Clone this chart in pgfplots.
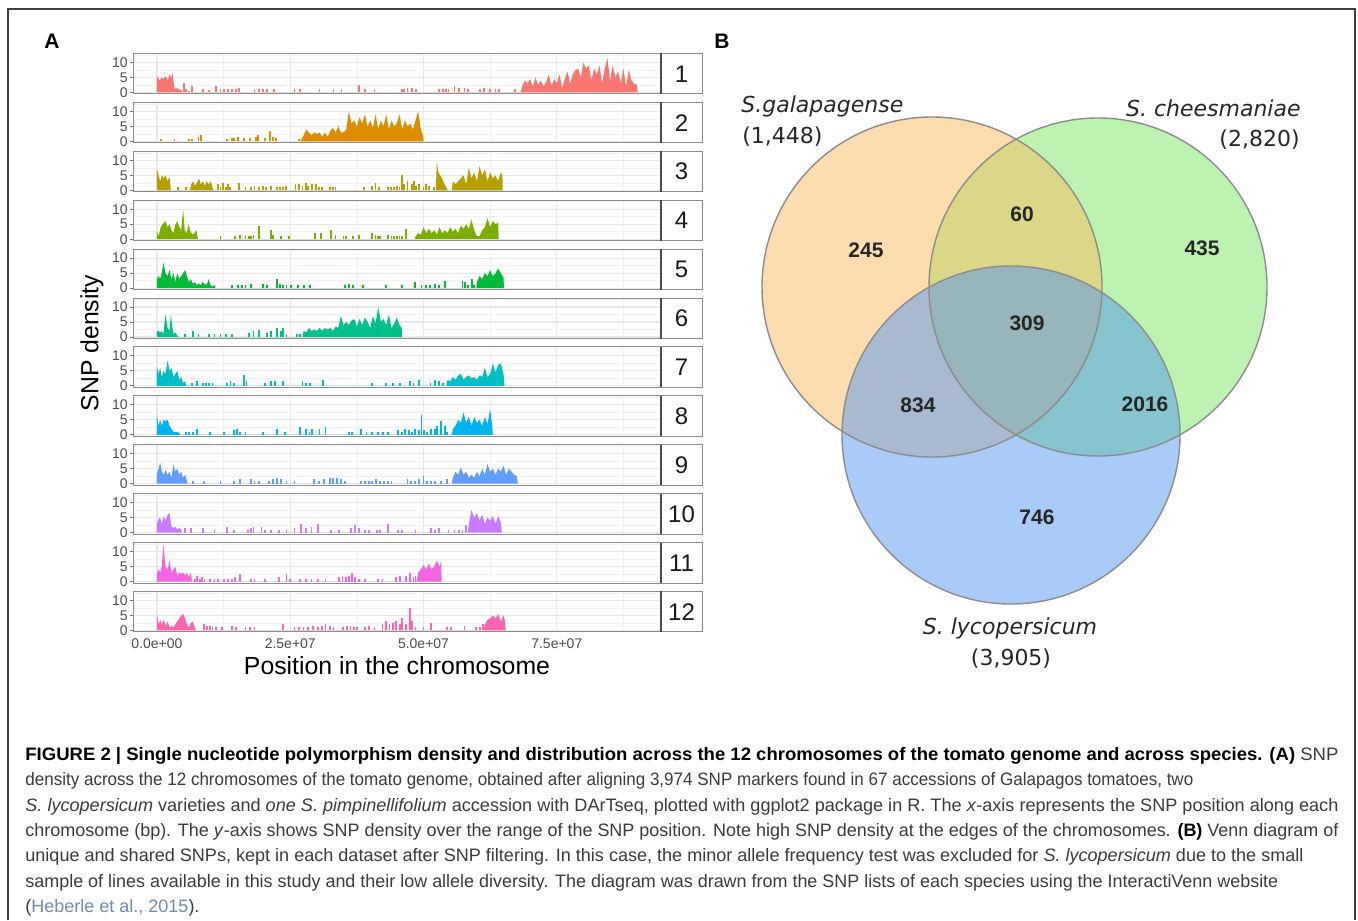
\documentclass[border=0pt]{standalone}
\usepackage{pgfplots}
\pgfplotsset{compat=1.18}
\usepackage{graphicx}
\usepackage{fontspec}
\setmainfont{Liberation Sans}
\newfontfamily\venn{DejaVu Sans}

\definecolor{c1}{HTML}{F8766D}
\definecolor{c2}{HTML}{DE8C00}
\definecolor{c3}{HTML}{B79F00}
\definecolor{c4}{HTML}{7CAE00}
\definecolor{c5}{HTML}{00BA38}
\definecolor{c6}{HTML}{00C08B}
\definecolor{c7}{HTML}{00BFC4}
\definecolor{c8}{HTML}{00B4F0}
\definecolor{c9}{HTML}{619CFF}
\definecolor{c10}{HTML}{C77CFF}
\definecolor{c11}{HTML}{F564E3}
\definecolor{c12}{HTML}{FF64B0}
\definecolor{vor}{HTML}{FBBB61}
\definecolor{vgr}{HTML}{7BE761}
\definecolor{vbl}{HTML}{5397F1}
\definecolor{captxt}{HTML}{3A3A3A}
\definecolor{cite}{HTML}{6E8CB0}

% caption line squeezed or stretched to the width it has in the original
\newlength\capw
\newcommand\capline[2]{\settowidth{\capw}{#2}\pgfmathsetmacro\capr{#1/\capw}\scalebox{\capr}[1]{#2}}

\pgfplotsset{
  chr/.style={
    scale only axis, width=264pt, height=20.25pt,
    anchor=south west,
    xmin=-4.5, xmax=94.55, ymin=-0.5, ymax=13,
    axis line style={black!45, line width=0.5pt},
    xtick={0,25,50,75}, minor xtick={12.5,37.5,62.5,87.5},
    ytick={0,5,10}, minor ytick={2.5,7.5,12.5},
    xticklabels={},
    xmajorgrids, ymajorgrids, xminorgrids, yminorgrids,
    major grid style={black!9, line width=0.55pt},
    minor grid style={black!5, line width=0.3pt},
    tick align=outside, ytick pos=left, xtick pos=bottom,
    major tick length=1.5pt, minor tick length=0pt,
    xtick style={draw=none}, ytick style={black!55, line width=0.5pt},
    yticklabel style={font=\fontsize{7}{7}\selectfont, text=black!70, inner sep=1pt},
    /pgf/number format/assume math mode=true,
  },
  area/.style={fill=#1, draw=none},
  spk/.style={ycomb, draw=#1, line width=0.9pt},
}

\begin{document}
\begin{tikzpicture}[x=0.5pt,y=-0.5pt]
\path[use as bounding box] (0,0) rectangle (1358,920);
\draw[black!75, line width=0.7pt] (8,920) -- (8,9) -- (1355,9) -- (1355,920);

\node[font=\fontsize{10.5}{10.5}\selectfont\bfseries] at (52,41) {A};
\node[font=\fontsize{10.5}{10.5}\selectfont\bfseries] at (722,41) {B};

% chromosome 1
\begin{axis}[chr, at={(66.5pt,-47pt)}]
\addplot[area=c1] coordinates {(0,0)(0,5.5)(0.5,4)(0.9,5)(1.25,4.5)(1.6,5.5)(2,4)(2.35,6)(2.7,5)(2.95,6.5)(3.2,2)(3.45,1)(3.8,1.5)(4.2,1)(4.55,0.8)(4.8,0)
(68.2,0)(68.5,2)(69,4)(69.5,3)(70,4.5)(70.5,2)(71,5)(71.5,2.5)(72,4)(72.5,2)(73,3.5)(73.5,6)(74,2)(74.5,4.5)(75,3)(75.5,6)(76,1.5)(76.5,4.5)(77,7)(77.5,3)(78,6)(78.5,7.5)(79,8)(79.5,5)(80,10)(80.5,8)(81,9)(81.5,4)(82,8)(82.5,6)(83,9)(83.5,3)(84,8)(84.5,11.5)(85,4)(85.5,9)(86,5)(86.5,7)(87,3)(87.5,8)(88,2)(88.5,7.5)(89,4)(89.5,3)(90,2.5)(90.2,0)} \closedcycle;
\addplot[spk=c1] coordinates {(5.13,3.2)(5.45,1)(6.05,0.5)(6.5,2.3)(8.6,1)(9.8,0.8)(11,2)(11.9,1)(12.6,1)(13.3,1)(14.1,1)(14.8,1)(15.4,1.5)(18.3,1)(19.2,1)(19.9,1)(20.7,1)(22,1)(25.8,1)(26.9,1)(30.5,1)(33.1,1)(34.6,1)(37.9,2.5)(39,1)(40.8,1)(45.9,1)(46.3,1)(47,1.5)(47.8,1.5)(48.6,1)(52.9,1)(53.6,1)(54.2,1)(54.7,1)(55.8,2)(56.6,1.5)(57.7,1.5)(58.4,1)(60.6,1)(61.3,1.5)(62.4,1)(63.5,1)(64.2,1)(67.2,1)};
\end{axis}

% chromosome 2
\begin{axis}[chr, at={(66.5pt,-71.45pt)}]
\addplot[area=c2] coordinates {(26.9,0)(27.5,2)(28,4)(28.5,3)(29,2)(29.5,3)(30,2.5)(30.5,3)(31,1.5)(31.5,3)(32,1.5)(32.5,3.5)(33,4.5)(33.5,3)(34,5)(34.5,3)(35,3)(35.5,4)(36,10)(36.5,6)(37,7)(37.5,5)(38,8)(38.5,6)(39,9)(39.5,5)(40,7)(40.5,4.5)(41,9)(41.5,4)(42,7)(42.5,5)(43,9)(43.5,4)(44,7)(44.5,5)(45,6)(45.5,9)(46,4)(46.5,7)(47,5)(47.5,6)(48,4)(48.5,7)(49,10)(49.5,4)(49.9,2)(50,0)} \closedcycle;
\addplot[spk=c2] coordinates {(0.7,0.8)(3.3,0.7)(6,0.8)(6.5,0.8)(7.8,1.5)(8.2,2)(13.2,0.8)(14.1,1)(14.5,1)(15.2,1.5)(16.3,1)(17.4,1)(18.5,1.5)(19,2)(20.3,1)(21.2,3.5)(21.8,1.5)(22.3,1)(26.7,0.8)};
\end{axis}

% chromosome 3
\begin{axis}[chr, at={(66.5pt,-95.9pt)}]
\addplot[area=c3] coordinates {(0,0)(0,7)(0.3,5)(0.6,3)(0.9,5)(1.25,4)(1.6,5)(2,3)(2.35,4.5)(2.6,0)
(6.2,0)(6.4,2)(6.8,3)(7.1,1.5)(7.5,2.5)(7.9,4)(8.2,2)(8.6,3)(9,1.5)(9.3,3)(9.7,2)(10.1,3)(10.4,1)(10.6,0)
(52.3,0)(52.5,9.5)(52.8,6)(53.1,5)(53.5,4)(53.9,2)(54.3,1)(54.5,0)
(55.3,0)(55.5,3)(56,2)(56.5,3)(57,4)(57.5,5)(58,2)(58.5,7.5)(59,4)(59.5,6)(60,3)(60.5,8)(61,5)(61.5,7)(62,3)(62.5,6)(63,4)(63.5,5)(64,3)(64.5,6)(64.8,5)(64.85,0)} \closedcycle;
\addplot[spk=c3] coordinates {(4,1)(5.4,1)(11.4,2)(11.9,1)(12.4,2.5)(12.9,1)(13.3,2)(13.7,1)(15.4,2.5)(16.6,1)(17.7,1)(18.3,1.5)(19.2,1)(19.9,1.5)(20.5,1)(21.4,1.5)(22.5,1)(23.1,1)(23.6,1)(24.2,1.5)(26,2)(26.6,2)(27.3,1.5)(27.9,2.5)(28.4,1.5)(29.1,2)(29.8,2)(30.4,1)(30.9,1)(32.4,1)(33,1)(33.5,1)(38.8,1)(40.4,1.5)(41,2.5)(41.7,1)(43.4,1)(43.9,1)(44.5,1)(45,1.5)(45.5,1)(45.9,5)(46.3,2)(47,3)(47.8,2)(48.2,3)(48.6,1.5)(49.2,2)(50,1)(50.5,2)(51,1.5)(52,1)};
\end{axis}

% chromosome 4
\begin{axis}[chr, at={(66.5pt,-120.35pt)}]
\addplot[area=c4] coordinates {(0,0)(0,2.5)(0.3,1)(0.7,4)(1.1,5)(1.6,6)(2,4)(2.35,5)(2.7,3)(3.1,2)(3.45,5)(3.8,6)(4.2,4)(4.55,3)(4.9,10)(5.2,3)(5.6,2)(5.9,5)(6.3,2.5)(6.7,1.5)(7,2)(7.4,3)(7.7,0)
(48.3,0)(48.5,1)(49,2)(49.5,1.5)(50,4)(50.5,2)(51,3.5)(51.5,2)(52,3)(52.5,1.5)(53,4)(53.5,2)(54,3)(54.5,2)(55,4)(55.5,2.5)(56,3.5)(56.5,2)(57,4.5)(57.5,3.5)(58,5)(58.5,3.5)(59,6.5)(59.5,3)(60,1)(60.5,1)(61,3)(61.5,4)(62,7)(62.5,4)(63,6)(63.5,5)(64,5.5)(64.1,0)} \closedcycle;
\addplot[spk=c4] coordinates {(11.9,1)(14.7,1)(15.5,1.5)(16.6,1)(17.2,1)(17.7,1)(18.1,1.5)(19.2,4.5)(21.4,3)(21.8,1.5)(23.2,1)(24.7,1)(29.7,2)(30.7,2)(32.7,3)(33.5,1.5)(35,1)(35.5,1)(36.8,1)(37.9,1.5)(40.4,2)(41,1.5)(41.5,1)(41.9,1)(43.4,1.5)(44,1)(44.5,1)(45,1)(45.5,1)(46,1)(46.7,3.5)};
\end{axis}

% chromosome 5
\begin{axis}[chr, at={(66.5pt,-144.8pt)}]
\addplot[area=c5] coordinates {(0,0)(0,3)(0.3,4)(0.6,3)(0.9,5)(1.2,8.5)(1.6,5)(2,4)(2.35,6)(2.7,3)(3.1,5)(3.45,2)(3.8,5)(4.2,3)(4.55,4)(4.9,5)(5.3,6)(5.6,4)(6,2)(6.35,3)(6.7,1.5)(7.1,2)(7.45,1)(7.8,1.5)(8.2,1)(8.55,2)(8.9,1.5)(9.3,1)(9.7,3)(10,1)(10.4,0.5)(10.8,1)(11,0)
(59.9,0)(60,2)(60.5,4)(61,3)(61.5,5)(62,4)(62.5,6)(63,4)(63.5,5)(64,6.5)(64.5,5)(65,3.5)(65.1,0)} \closedcycle;
\addplot[spk=c5] coordinates {(14.1,1)(15.2,1)(15.9,1)(16.6,1)(17.7,1.5)(19.9,1.5)(20.7,1)(22.5,3)(23,1.5)(23.6,1)(24.3,1)(25.1,1)(26.5,1)(27.6,1)(28.7,1)(35.3,1)(36,1.5)(36.8,1)(38.6,1)(43,1)(45.9,1)(48.4,2)(49.6,1)(50.4,1)(51.2,1)(52.2,1.5)(52.9,1)(54,2.5)(57.3,2.5)(57.8,2)(58.4,1)(59.1,3)(59.5,1)};
\end{axis}

% chromosome 6
\begin{axis}[chr, at={(66.5pt,-169.25pt)}]
\addplot[area=c6] coordinates {(0,0)(0,2)(0.3,2)(0.6,1.5)(0.9,2)(1.2,1)(1.6,7.5)(2,3)(2.35,2)(2.6,7.5)(2.9,3)(3.1,1)(3.45,1.5)(3.8,0.5)(4,0)
(27.3,0)(27.5,2)(28,1.5)(28.5,3)(29,2)(29.5,2.5)(30,2)(30.5,3)(31,2)(31.5,3)(32,2.5)(32.5,3)(33,2)(33.5,3.5)(34,3)(34.5,7)(35,4)(35.5,5)(36,4)(36.5,5.5)(37,6)(37.5,3.5)(38,6)(38.5,4)(39,6.5)(39.5,5)(40,3)(40.5,7)(41,4.5)(41.5,10)(42,5)(42.5,6)(43,4)(43.5,7.5)(44,3)(44.5,4.5)(45,6.5)(45.5,4)(45.9,3)(46,0)} \closedcycle;
\addplot[spk=c6] coordinates {(5.3,1)(6.7,2)(7.8,1)(9.7,1)(10.8,1)(11.9,1)(13,1)(14.1,1)(17.2,1.5)(18.1,2)(19.2,2.5)(20.7,1.5)(21.4,2)(22.5,3)(23.2,2)(23.6,3)(24.3,1)(26.2,1)(26.9,1)};
\end{axis}

% chromosome 7
\begin{axis}[chr, at={(66.5pt,-193.7pt)}]
\addplot[area=c7] coordinates {(0,0)(0,6.5)(0.3,4)(0.6,6)(0.9,3)(1.25,5)(1.6,4)(2,8.5)(2.35,5)(2.7,6)(3.1,3)(3.45,4)(3.8,5)(4.2,2)(4.55,3)(4.9,1)(5.3,1.5)(5.5,0)
(54.3,0)(54.5,2)(55,1.5)(55.5,3)(56,2)(56.5,3.5)(57,4)(57.5,2)(58,3)(58.5,3.5)(59,2.5)(59.5,3)(60,2)(60.5,3.5)(61,3)(61.5,6)(62,3)(62.5,4)(63,7.5)(63.5,4.5)(64,7)(64.5,7.5)(65,4)(65.2,0)} \closedcycle;
\addplot[spk=c7] coordinates {(6.6,1)(7.5,1.5)(8.6,1)(9.2,1)(9.8,1)(10.4,1)(13.2,1)(13.8,1.5)(14.4,1)(16.3,3.5)(16.8,1.5)(20.3,1)(21.4,1.5)(22.1,1.5)(23.6,1.5)(27.3,1.5)(28,1)(28.7,1)(31.1,2)(40.4,1)(43,1)(44.2,1)(45.6,1)(47.4,1.5)(48.1,1)(49.1,2)(51.3,1)(52.2,2)(52.9,1.5)(53.6,1)};
\end{axis}

% chromosome 8
\begin{axis}[chr, at={(66.5pt,-218.15pt)}]
\addplot[area=c8] coordinates {(0,0)(0,6.5)(0.3,3)(0.6,5)(0.9,3)(1.25,5)(1.6,4.5)(2,5)(2.35,3)(2.7,2)(3.1,1)(3.45,1)(3.8,1)(4.2,0.5)(4.4,0)
(55.3,0)(55.5,2)(56,3)(56.5,5)(57,4)(57.5,7.5)(58,4)(58.5,6)(59,3)(59.5,6)(60,4)(60.5,5)(61,3)(61.5,6)(62,3.5)(62.5,8.5)(62.9,3)(63,0)} \closedcycle;
\addplot[spk=c8] coordinates {(5.4,1)(6,1)(6.7,1)(7.5,2)(10,1)(12.6,1)(14.4,1.5)(15,2)(15.5,1)(16.6,1)(19.9,1)(22.5,2)(24,1)(26.9,2.5)(28,2)(28.6,1)(29.1,2)(30.5,2)(31.6,2.5)(36,1)(36.6,1)(38.2,2)(39.3,1)(40.4,1)(41.5,1)(42.4,1)(43.4,1)(45.2,1.5)(45.9,1)(46.5,2)(47.2,1.5)(47.8,1)(48.4,2)(49.2,1.5)(49.6,6.5)(50.1,1.5)(50.7,1)(51.4,2)(52.2,2)(52.5,3)(53.3,4.5)(54,3)(54.4,1)};
\end{axis}

% chromosome 9
\begin{axis}[chr, at={(66.5pt,-242.6pt)}]
\addplot[area=c9] coordinates {(0,0)(0,3)(0.3,5)(0.6,7)(0.9,4)(1.25,3)(1.6,4.5)(2,3)(2.35,4)(2.7,2)(3.1,6.5)(3.45,4)(3.8,5)(4.2,3)(4.55,4)(4.9,2)(5.3,3)(5.6,1)(5.8,0)
(55.3,0)(55.5,2)(56,4)(56.5,3)(57,5.5)(57.5,3)(58,4)(58.5,2)(59,3)(59.5,2)(60,4)(60.5,2.5)(61,5)(61.5,3)(62,6.5)(62.5,4)(63,5)(63.5,3)(64,5)(64.5,4)(65,6)(65.5,3)(66,5)(66.5,4)(67,3)(67.5,2.5)(67.7,0)} \closedcycle;
\addplot[spk=c9] coordinates {(6.7,1)(8.8,1)(11.9,1)(14.4,1)(15.5,1.5)(17.6,1.5)(18.3,1)(19.2,1)(21,1)(21.8,1.5)(22.5,2)(23.2,1.5)(24.3,1)(25.8,1)(29.5,1.5)(30.4,1)(31.3,1.5)(32.4,2)(33,2)(33.8,2)(34.5,1.5)(35.3,1)(38.2,1)(39,1)(39.7,1)(40.4,1)(41.1,1.5)(41.9,1)(42.6,1)(43.3,1)(44,1)(47,1.5)(47.7,1)(48.4,1)(49.2,1.5)(50,2.5)(50.7,1)(51.4,1)(52.2,1)(53.3,1)(54.4,1.5)};
\end{axis}

% chromosome 10
\begin{axis}[chr, at={(66.5pt,-267.05pt)}]
\addplot[area=c10] coordinates {(0,0)(0,3)(0.3,4.5)(0.6,5)(0.9,3)(1.25,5.5)(1.6,4)(2,6)(2.35,6.5)(2.7,2)(3.1,1.5)(3.45,2)(3.8,1)(4.2,1.5)(4.55,1)(4.7,0)
(58.3,0)(58.5,3)(59,7.5)(59.5,5)(60,6.5)(60.5,4)(61,6)(61.5,3)(62,5)(62.5,4)(63,5.5)(63.5,3)(64,5.5)(64.5,3.5)(64.7,0)} \closedcycle;
\addplot[spk=c10] coordinates {(5.3,1.5)(6.4,1.5)(8.6,1.5)(10.8,1)(13.2,2)(14.4,1)(17,1)(17.6,1.5)(18.1,2)(19.6,2)(20.3,1)(21.4,1)(22.9,1)(24.3,1)(25.8,1.5)(27,3)(28,1.5)(29,2)(30.2,3)(32.7,1)(34.2,1)(36.4,1.5)(37.1,2.5)(37.9,1.5)(39,1)(39.7,1)(41.2,1)(41.9,1)(43.4,3)(45.2,1)(45.9,1)(48.5,1)(51.4,1.5)(52.1,1)(52.9,1.5)(54.7,1)(55.8,1)(56.6,1)(57.3,1)(57.9,2.5)};
\end{axis}

% chromosome 11
\begin{axis}[chr, at={(66.5pt,-291.5pt)}]
\addplot[area=c11] coordinates {(0,0)(0,3)(0.3,4)(0.6,3)(0.9,5)(1.2,12.5)(1.6,5)(2,4)(2.35,7)(2.7,3)(3.1,4)(3.45,5)(3.8,2)(4.2,3)(4.55,2.5)(4.9,3)(5.3,2)(5.6,3)(6,1.5)(6.35,3)(6.6,0)
(48.7,0)(49,3)(49.5,4)(50,5.5)(50.5,4)(51,6)(51.5,4)(52,5)(52.5,7)(53,5)(53.3,7)(53.4,0)} \closedcycle;
\addplot[spk=c11] coordinates {(7.1,1)(7.5,2)(8,1)(8.5,1.5)(8.9,1)(10,1)(10.8,1)(11.5,1)(12.6,1)(13.3,1)(14.1,1)(14.7,1.5)(15.5,2.5)(17.7,1)(18.3,1)(20.3,1)(22.9,1.5)(24.3,2.5)(25,1)(26.9,1)(28,1)(29,1)(30.2,1)(31.6,1)(34.2,1.5)(34.8,2)(35.4,1.5)(36,2)(36.6,3)(37.1,1.5)(37.9,1)(39,1)(41.5,1)(42.3,1)(44.8,1.5)(45.6,2)(46.7,2)(47.4,3)(48.1,1.5)(48.5,2)};
\end{axis}

% chromosome 12
\begin{axis}[chr, at={(66.5pt,-315.95pt)},
  xticklabels={0.0e+00,2.5e+07,5.0e+07,7.5e+07},
  xtick style={black!55, line width=0.5pt},
  xticklabel style={font=\fontsize{7}{7}\selectfont, text=black!70, inner sep=1.5pt}]
\addplot[area=c12] coordinates {(0,0)(0,5.5)(0.3,2)(0.6,3.5)(0.9,2)(1.25,3.5)(1.6,1.5)(2,3)(2.35,1)(2.7,1.5)(3.1,1)(3.45,2)(3.8,3)(4.2,4)(4.55,5)(4.9,5.5)(5.3,4)(5.6,2)(6,1)(6.35,2.5)(6.7,3)(7.1,1)(7.3,0)
(61.3,0)(61.5,2)(62,3.5)(62.5,4)(63,5)(63.5,4)(64,5.5)(64.5,3)(65,5)(65.3,3)(65.4,0)} \closedcycle;
\addplot[spk=c12] coordinates {(8.8,2)(9.4,1.5)(9.9,1.5)(10.4,1)(11.1,1)(12.2,1)(14.1,1.5)(14.8,1)(16.6,1)(17.4,1)(18.3,1)(23.6,2)(25.8,1)(26.7,1)(27.5,1)(28.4,1)(29.3,1.5)(30.2,1)(30.9,1.5)(31.6,2)(32.4,1.5)(33.1,1)(34.9,1)(35.6,1.5)(36.3,1.5)(37,1)(37.5,1)(39,1)(39.7,1.5)(40.8,1)(42.3,2)(42.9,3)(43.6,2)(44.2,2.5)(44.9,3)(45.6,2)(45.9,4)(46.7,2)(47.4,7.5)(47.8,3)(48.5,1)(50,1)(51.4,2.5)(54.4,1)(55.1,1)(57.7,1.5)(59.9,1)(60.6,1)(61.1,2)};
\end{axis}

% facet strips
\foreach \i in {1,...,12}{
  \pgfmathsetmacro{\yt}{53.5+(\i-1)*48.9}
  \draw[black!45, line width=0.5pt, fill=white] (661,\yt) rectangle (702,{\yt+40.5});
  \draw[black!70, line width=0.9pt] (661,\yt) -- (661,{\yt+40.5});
  \node[font=\fontsize{12}{12}\selectfont, text=black!90] at (681.5,{\yt+20.25}) {\i};
}

\node[font=\fontsize{12.4}{12.4}\selectfont, rotate=90] at (92,343) {SNP density};
\node[font=\fontsize{12.4}{12.4}\selectfont] at (397,666) {Position in the chromosome};

% Venn diagram
\begin{axis}[at={(360pt,-340pt)}, anchor=south west, scale only axis,
  width=310pt, height=310pt, hide axis, clip=false,
  xmin=720, xmax=1340, ymin=-680, ymax=-60]
\fill[vgr, fill opacity=0.5] (axis cs:1098,-287) circle[radius=84.5pt];
\fill[vor, fill opacity=0.5] (axis cs:932,-287) circle[radius=85pt];
\fill[vbl, fill opacity=0.5] (axis cs:1011,-435) circle[radius=84.5pt];
\draw[black!45, line width=0.7pt] (axis cs:932,-287) circle[radius=85pt];
\draw[black!45, line width=0.7pt] (axis cs:1098,-287) circle[radius=84.5pt];
\draw[black!45, line width=0.7pt] (axis cs:1011,-435) circle[radius=84.5pt];
\begin{scope}[every node/.style={font=\fontsize{10.5}{10.5}\selectfont\bfseries, text=black!85}]
\node at (axis cs:866,-250) {245};
\node at (axis cs:1022,-214) {60};
\node at (axis cs:1202,-248) {435};
\node at (axis cs:1027,-323) {309};
\node at (axis cs:918,-405) {834};
\node at (axis cs:1145,-404) {2016};
\node at (axis cs:1037,-517) {746};
\end{scope}
\begin{scope}[every node/.style={font=\venn\fontsize{11}{11}\selectfont, text=black!85, inner sep=0pt}]
\node[anchor=west] at (axis cs:741,-106) {\itshape S.galapagense};
\node[anchor=west] at (axis cs:742,-137) {(1,448)};
\node[anchor=east] at (axis cs:1301,-108) {\itshape S. cheesmaniae};
\node[anchor=east] at (axis cs:1300,-140) {(2,820)};
\node at (axis cs:1010,-628) {\itshape S. lycopersicum};
\node at (axis cs:1011,-659) {(3,905)};
\end{scope}
\end{axis}

% caption
\begin{scope}[every node/.style={anchor=base west, inner sep=0pt, font=\fontsize{9}{11}\selectfont, text=captxt}]
\node at (25,760) {\capline{656.5}{\textbf{\color{black}FIGURE 2 | Single nucleotide polymorphism density and distribution across the 12 chromosomes of the tomato genome and across species. (A)} SNP}};
\node at (25,785) {\capline{584}{density across the 12 chromosomes of the tomato genome, obtained after aligning 3,974 SNP markers found in 67 accessions of Galapagos tomatoes, two}};
\node at (25,811) {\capline{656.5}{\textit{S. lycopersicum} varieties and \textit{one S. pimpinellifolium} accession with DArTseq, plotted with ggplot2 package in R. The \textit{x}-axis represents the SNP position along each}};
\node at (25,836) {\capline{656.5}{chromosome (bp). The \textit{y}-axis shows SNP density over the range of the SNP position. Note high SNP density at the edges of the chromosomes. \textbf{\color{black}(B)} Venn diagram of}};
\node at (25,861) {\capline{639}{unique and shared SNPs, kept in each dataset after SNP filtering. In this case, the minor allele frequency test was excluded for \textit{S. lycopersicum} due to the small}};
\node at (25,887) {\capline{626.5}{sample of lines available in this study and their low allele diversity. The diagram was drawn from the SNP lists of each species using the InteractiVenn website}};
\node at (25,912) {(\textcolor{cite}{Heberle et al., 2015}).};
\end{scope}
\end{tikzpicture}
\end{document}
